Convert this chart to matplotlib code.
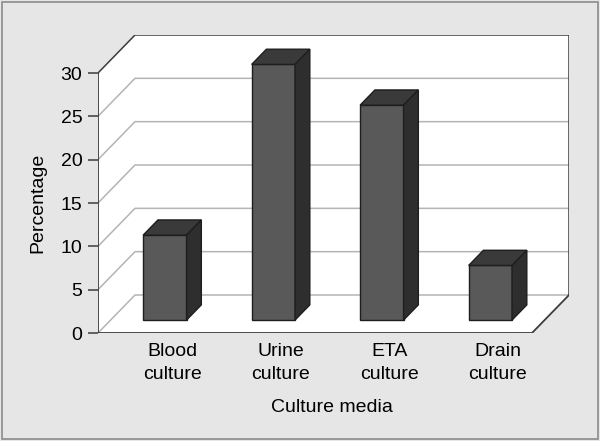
import matplotlib
matplotlib.use('Agg')
import matplotlib.pyplot as plt
from matplotlib.patches import Polygon, Rectangle

plt.rcParams['font.family'] = ['Liberation Sans', 'DejaVu Sans']

# data
categories = ['Blood\nculture', 'Urine\nculture', 'ETA\nculture', 'Drain\nculture']
percentages = [9.8, 29.5, 24.8, 6.3]
y_ticks = [0, 5, 10, 15, 20, 25, 30]
y_max = 30

# pseudo 3d geometry (data units)
depth_x = 0.341
depth_y = 4.385
bar_front = 0.34   # fraction of depth where bar front sits
bar_depth = 0.40   # fraction of depth taken by bar
bar_width = 0.40
n = len(categories)

fig = plt.figure(figsize=(6, 4.41), dpi=100)
fig.patch.set_facecolor('#e6e6e6')
fig.patches.append(Rectangle((2 / 600, 2 / 441), 596 / 600, 437 / 441,
                             transform=fig.transFigure, fill=False,
                             edgecolor='#8a8a8a', linewidth=1.2))

ax = fig.add_axes([98 / 600, 108 / 441, 471 / 600, 298 / 441])
ax.set_xlim(0, n + depth_x)
ax.set_ylim(0, y_max + depth_y)
ax.patch.set_visible(False)
for s in ax.spines.values():
    s.set_visible(False)

# walls and floor (white)
walls = Polygon([(0, 0), (n, 0), (n + depth_x, depth_y), (n + depth_x, y_max + depth_y),
                 (depth_x, y_max + depth_y), (0, y_max)],
                closed=True, facecolor='white', edgecolor='none', zorder=0)
ax.add_patch(walls)

# gridlines
for v in y_ticks[:-1]:
    ax.plot([0, depth_x, n + depth_x], [v, v + depth_y, v + depth_y],
            color='#b4b4b4', linewidth=1.1, zorder=1)

# box outline
dark = '#3c3c3c'
ax.plot([0, depth_x, n + depth_x, n + depth_x], [y_max, y_max + depth_y, y_max + depth_y, depth_y],
        color=dark, linewidth=1.1, zorder=2)
ax.plot([0, 0, n, n + depth_x], [y_max, 0, 0, depth_y], color=dark, linewidth=1.3, zorder=2)

# bars
x_pos = [i + 0.5 for i in range(n)]
x0 = bar_front * depth_x
y0 = bar_front * depth_y
ddx = bar_depth * depth_x
ddy = bar_depth * depth_y
ax.bar([x + x0 for x in x_pos], percentages, width=bar_width, bottom=y0,
       color='#595959', edgecolor='#1e1e1e', linewidth=1.0, zorder=3)
for x, h in zip(x_pos, percentages):
    left = x + x0 - bar_width / 2
    right = x + x0 + bar_width / 2
    top = y0 + h
    ax.add_patch(Polygon([(left, top), (right, top), (right + ddx, top + ddy), (left + ddx, top + ddy)],
                         closed=True, facecolor='#3a3a3a', edgecolor='#1e1e1e', linewidth=1.0, zorder=3))
    ax.add_patch(Polygon([(right, y0), (right + ddx, y0 + ddy), (right + ddx, top + ddy), (right, top)],
                         closed=True, facecolor='#2e2e2e', edgecolor='#1e1e1e', linewidth=1.0, zorder=3))

ax.set_yticks(y_ticks)
ax.set_yticklabels([str(v) for v in y_ticks])
ax.tick_params(axis='y', length=7.2, width=1.1, color=dark, pad=4, labelsize=14)

ax.set_xticks([x + x0 + ddx * 0.5 for x in x_pos])
ax.set_xticklabels(categories)
ax.tick_params(axis='x', length=0, pad=7, labelsize=14)
for lbl in ax.get_xticklabels():
    lbl.set_linespacing(1.45)

fig.text(332 / 600, 1 - 407 / 441, 'Culture media', ha='center', va='center', fontsize=14)
fig.text(38 / 600, 1 - 203 / 441, 'Percentage', ha='center', va='center', rotation=90, fontsize=14)

fig.savefig('out.png', dpi=100, facecolor=fig.get_facecolor())
